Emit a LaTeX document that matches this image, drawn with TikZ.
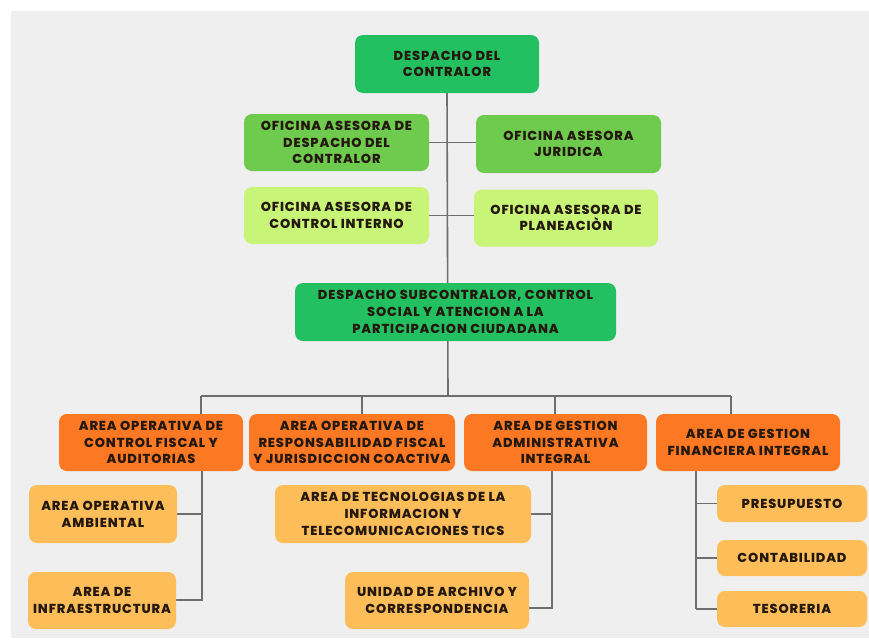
\documentclass[tikz,border=0pt]{standalone}
\usepackage{fontspec}
\setmainfont{Poppins}[BoldFont={Poppins ExtraBold}]
\usetikzlibrary{positioning, backgrounds}

\definecolor{paper}{HTML}{EFEFEF}
\definecolor{wire}{HTML}{6E6E6E}
\definecolor{ink}{HTML}{24180F}
\definecolor{gdark}{HTML}{22C060}
\definecolor{gmid}{HTML}{6ECB4E}
\definecolor{glight}{HTML}{C8F578}
\definecolor{odark}{HTML}{FC7822}
\definecolor{olight}{HTML}{FDBE5A}

\begin{document}
\begin{tikzpicture}[x=1pt,y=-1pt,
 box/.style={rounded corners=8pt,inner sep=2pt,align=center,text=ink,
   font=\bfseries\fontsize{13}{16.7}\selectfont\addfontfeatures{LetterSpace=6.5}},
 head node/.style={box,fill=gdark},
 staff node/.style={box,fill=gmid},
 help node/.style={box,fill=glight},
 area node/.style={box,fill=odark,minimum width=184pt,minimum height=57pt},
 unit node/.style={box,fill=olight},
 link/.style={draw=wire,line width=1.6pt}]

  \useasboundingbox (0,0) rectangle (869,640);

  % direccion
  \node[head node,minimum width=184pt,minimum height=58pt] (top) at (447,64) {DESPACHO DEL\\CONTRALOR};
  \node[staff node,minimum width=185pt,minimum height=57pt] (of1) at (336.5,142.5) {OFICINA ASESORA DE\\DESPACHO DEL\\CONTRALOR};
  \node[staff node,minimum width=185pt,minimum height=58pt] (of2) at (568.5,144) {OFICINA ASESORA\\JURIDICA};
  \node[help node,minimum width=185pt,minimum height=57pt] (of3) at (336.5,215.5) {OFICINA ASESORA DE\\CONTROL INTERNO};
  \node[help node,minimum width=184pt,minimum height=57pt] (of4) at (566,218) {OFICINA ASESORA DE\\PLANEACIÒN};
  \node[head node,minimum width=321pt,minimum height=58pt] (sub) at (455.5,312) {DESPACHO SUBCONTRALOR, CONTROL\\SOCIAL Y ATENCION A LA\\PARTICIPACION CIUDADANA};

  % areas
  \node[area node] (a1) at (151,442.5) {AREA OPERATIVA DE\\CONTROL FISCAL Y\\AUDITORIAS};
  \node[area node,minimum width=206pt] (a2) at (352,442.5) {AREA OPERATIVA DE\\RESPONSABILIDAD FISCAL\\Y JURISDICCION COACTIVA};
  \node[area node,minimum width=183pt] (a3) at (555.5,442.5) {AREA DE GESTION\\ADMINISTRATIVA\\INTEGRAL};
  \node[area node] (a4) at (748,442.5) {AREA DE GESTION\\FINANCIERA INTEGRAL};

  % unidades
  \node[unit node,minimum width=148pt,minimum height=58pt] (u1) at (103,514) {AREA OPERATIVA\\AMBIENTAL};
  \node[unit node,minimum width=148pt,minimum height=57pt] (u2) at (102,600.5) {AREA DE\\INFRAESTRUCTURA};
  \node[unit node,minimum width=256pt,minimum height=58pt] (u3) at (403,514) {AREA DE TECNOLOGIAS DE LA\\INFORMACION Y\\TELECOMUNICACIONES TICS};
  \node[unit node,minimum width=184pt,minimum height=57pt] (u4) at (437,600.5) {UNIDAD DE ARCHIVO Y\\CORRESPONDENCIA};
  \node[unit node,minimum width=150pt,minimum height=37pt] (u5) at (792,503.5) {PRESUPUESTO};
  \node[unit node,minimum width=150pt,minimum height=36pt] (u6) at (792,558) {CONTABILIDAD};
  \node[unit node,minimum width=150pt,minimum height=36pt] (u7) at (792,609) {TESORERIA};

  \coordinate (hub) at (448,396);
  \coordinate (d1) at (201,396);
  \coordinate (d2) at (362,396);
  \coordinate (d3) at (555,396);
  \coordinate (d4) at (731,396);
  \coordinate (t1) at (202,600);
  \coordinate (t3) at (552,608);
  \coordinate (t4) at (696,609);

  \begin{scope}[on background layer]
    \fill[white] (0,0) rectangle (869,640);
    \fill[paper] (11,11) rectangle (869,638);
    \path[link] (top.south) -- (hub);
    \path[link] (of1.east) -- (of1.east -| of2.west);
    \path[link] (of3.east) -- (of3.east -| of4.west);
    \path[link] (d1) -- (d4);
    \foreach \d/\a in {d1/a1, d2/a2, d3/a3, d4/a4}
      \path[link] (\d) -- (\d |- \a.north);
    % ramas
    \path[link] (t1 |- a1.south) -- (t1) -- (t1 -| u2.east);
    \path[link] (t1 |- u1.east) -- (u1.east);
    \path[link] (t3 |- a3.south) -- (t3) -- (t3 -| u4.east);
    \path[link] (t3 |- u3.east) -- (u3.east);
    \path[link] (t4 |- a4.south) -- (t4);
    \foreach \u in {u5, u6, u7}
      \path[link] (t4 |- \u.west) -- (\u.west);
  \end{scope}
\end{tikzpicture}
\end{document}
